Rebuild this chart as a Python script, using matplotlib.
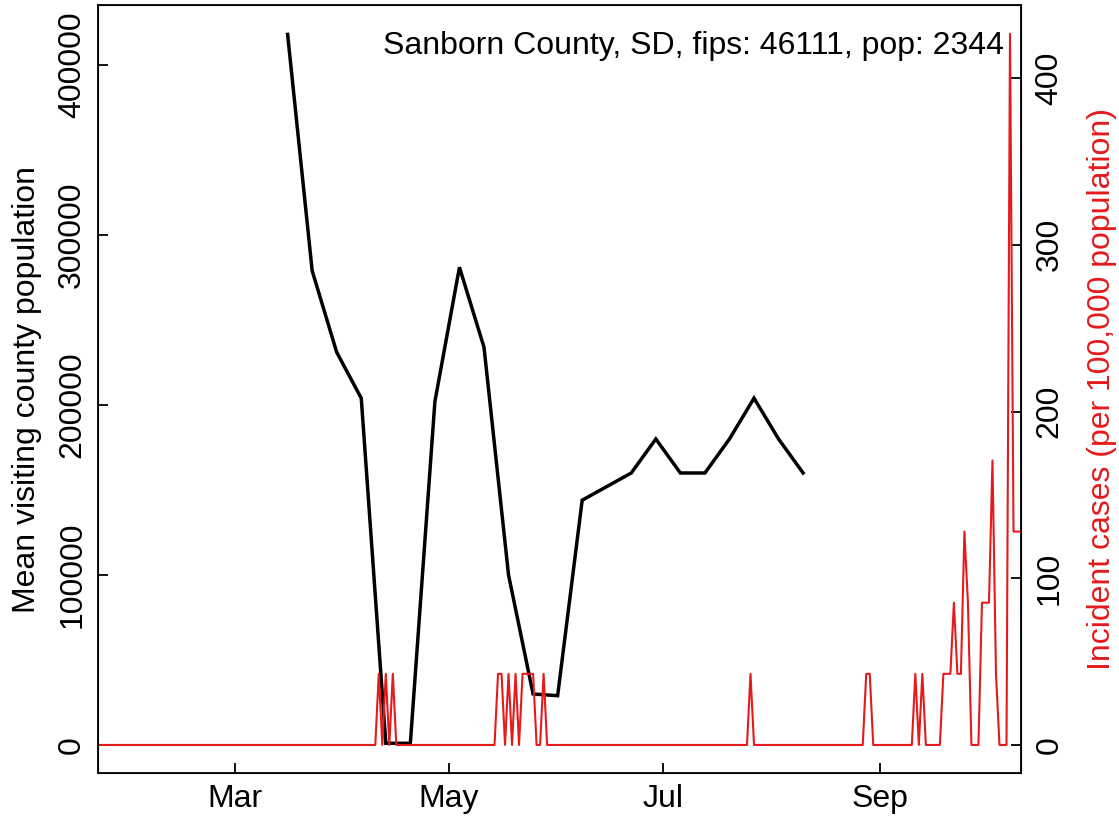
import matplotlib
matplotlib.use("Agg")
import matplotlib.pyplot as plt
import pandas as pd

plt.rcParams['font.family'] = ['Liberation Sans', 'DejaVu Sans']

# weekly mean visiting county population (black line)
visit_dates = pd.date_range("2020-03-16", "2020-08-10", freq="7D")
visit_pop = [418000, 279000, 231000, 204000, 1000, 1000, 202000, 281000,
             234000, 100000, 30000, 29000, 144000, 152000, 160000, 180000,
             160000, 160000, 180000, 204000, 180000, 160000]

# daily incident cases per 100,000 (red line); days not listed are zero
case_days = pd.date_range("2020-01-22", "2020-10-11", freq="D")
nonzero_dates = ["2020-04-11", "2020-04-13", "2020-04-15",
                 "2020-05-15", "2020-05-16", "2020-05-18", "2020-05-20",
                 "2020-05-22", "2020-05-23", "2020-05-24", "2020-05-25",
                 "2020-05-28", "2020-07-26", "2020-08-28", "2020-08-29",
                 "2020-09-11", "2020-09-13", "2020-09-19", "2020-09-20",
                 "2020-09-21", "2020-09-22", "2020-09-23", "2020-09-24",
                 "2020-09-25", "2020-09-26", "2020-09-30", "2020-10-01",
                 "2020-10-02", "2020-10-03", "2020-10-04", "2020-10-08",
                 "2020-10-09", "2020-10-10", "2020-10-11"]
nonzero_inc = [42.66, 42.66, 42.66,
               42.66, 42.66, 42.66, 42.66,
               42.66, 42.66, 42.66, 42.66,
               42.66, 42.66, 42.66, 42.66,
               42.66, 42.66, 42.66, 42.66,
               42.66, 85.32, 42.66, 42.66,
               127.99, 85.32, 85.32, 85.32,
               85.32, 170.65, 42.66, 426.62,
               127.99, 127.99, 127.99]

incidence = pd.Series(0.0, index=case_days)
incidence[pd.to_datetime(nonzero_dates)] = nonzero_inc

x_ticks = pd.to_datetime(["2020-03-01", "2020-05-01", "2020-07-01", "2020-09-01"])
x_labels = ["Mar", "May", "Jul", "Sep"]
left_ticks = [0, 100000, 200000, 300000, 400000]
right_ticks = [0, 100, 200, 300, 400]

red = "#e41a1c"
fs = 23

fig = plt.figure(figsize=(11.19, 8.17), dpi=100)
ax = fig.add_axes([0.0878, 0.0535, 0.8242, 0.9404])
ax.plot(visit_dates, visit_pop, color="black", lw=2.5, solid_joinstyle="miter")
ax.set_xlim(pd.Timestamp("2020-01-22"), pd.Timestamp("2020-10-11"))
ax.set_ylim(-16650, 435300)
ax.set_xticks(x_ticks)
ax.set_xticklabels(x_labels)
ax.set_yticks(left_ticks)
ax.set_yticklabels([str(v) for v in left_ticks], rotation=90, va="center")
ax.set_ylabel("Mean visiting county population", fontsize=fs, labelpad=11)
ax.tick_params(axis="both", direction="in", length=7, width=1.3, labelsize=fs)
ax.tick_params(axis="x", pad=8)
ax.tick_params(axis="y", pad=8)
for s in ax.spines.values():
    s.set_linewidth(1.3)

ax2 = ax.twinx()
ax2.plot(incidence.index, incidence.values, color=red, lw=1.5)
ax2.set_ylim(-17.0, 443.9)
ax2.set_yticks(right_ticks)
ax2.set_yticklabels([str(v) for v in right_ticks], rotation=90, va="center")
ax2.set_ylabel("Incident cases (per 100,000 population)", color=red,
               fontsize=fs, labelpad=16)
ax2.tick_params(axis="y", direction="in", length=7, width=1.3, labelsize=fs, pad=10)

ax.text(0.982, 0.947, "Sanborn County, SD, fips: 46111, pop: 2344",
        transform=ax.transAxes, ha="right", va="center", fontsize=fs)

fig.savefig("out.png", dpi=100)
